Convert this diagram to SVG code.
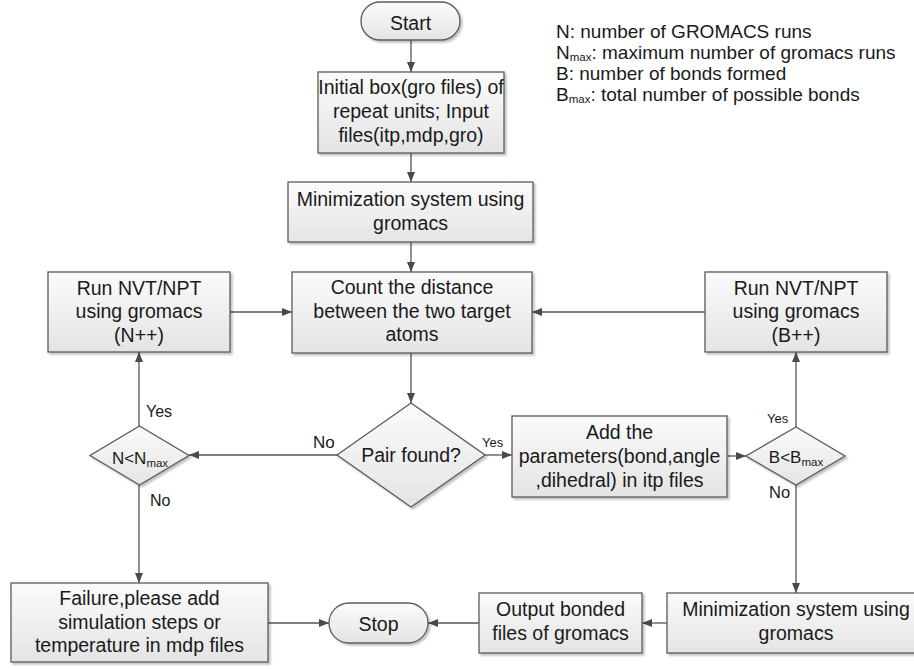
<svg xmlns="http://www.w3.org/2000/svg" width="914" height="669" viewBox="0 0 914 669">
<style>
.s{fill:url(#g);stroke:#5b5b5b;stroke-width:1.3;filter:url(#sh)}
.t{font-family:"Liberation Sans",Arial,sans-serif;font-size:19.5px;fill:#1a1a1a;text-anchor:middle}
.lg{font-family:"Liberation Sans",Arial,sans-serif;font-size:19px;fill:#1a1a1a}
.d{font-family:"Liberation Sans",Arial,sans-serif;font-size:17px;fill:#1a1a1a;text-anchor:middle}
.lb{font-family:"Liberation Sans",Arial,sans-serif;fill:#1a1a1a}
.c{fill:none;stroke:#555;stroke-width:1.3;marker-end:url(#a)}
</style>
<defs>
<linearGradient id="g" x1="0" y1="0" x2="0" y2="1">
<stop offset="0" stop-color="#fbfbfb"/><stop offset="1" stop-color="#e4e4e4"/>
</linearGradient>
<filter id="sh" x="-10%" y="-10%" width="130%" height="130%">
<feGaussianBlur in="SourceAlpha" stdDeviation="1"/>
<feOffset dx="2" dy="2" result="o"/>
<feComponentTransfer><feFuncA type="linear" slope="0.25"/></feComponentTransfer>
<feMerge><feMergeNode/><feMergeNode in="SourceGraphic"/></feMerge>
</filter>
<marker id="a" viewBox="0 0 10 8" refX="10" refY="4" markerWidth="10" markerHeight="8" markerUnits="userSpaceOnUse" orient="auto">
<path d="M0,0 L10,4 L0,8 Z" fill="#4a4a4a"/>
</marker>
</defs>

<g id="connectors">
<path class="c" d="M411,40 V72"/>
<path class="c" d="M411,153 V182"/>
<path class="c" d="M411,242 V272"/>
<path class="c" d="M411,353 V403"/>
<path class="c" d="M485,455 H512"/>
<path class="c" d="M727,456 H746"/>
<path class="c" d="M796,427 V352"/>
<path class="c" d="M705,312 H532"/>
<path class="c" d="M796,485 V593"/>
<path class="c" d="M667,623 H642"/>
<path class="c" d="M479,623 H428"/>
<path class="c" d="M337,455 H189"/>
<path class="c" d="M139,426 V352"/>
<path class="c" d="M230,312 H292"/>
<path class="c" d="M139,485 V583"/>
<path class="c" d="M268,623 H329"/>
<text class="lb" x="313" y="448" font-size="17">No</text>
<text class="lb" x="482" y="447" font-size="13">Yes</text>
<text class="lb" x="146" y="417" font-size="16">Yes</text>
<text class="lb" x="150" y="506" font-size="16">No</text>
<text class="lb" x="767" y="423" font-size="13">Yes</text>
<text class="lb" x="769" y="498" font-size="16.5">No</text>
</g>

<g id="start">
<rect class="s" x="361" y="2" width="99" height="38" rx="19"/>
<text class="t" x="410.5" y="30" font-size="24">Start</text>
</g>

<g id="initial">
<rect class="s" x="318" y="72" width="186" height="81"/>
<text class="t" x="411" y="94">Initial box(gro files) of</text>
<text class="t" x="411" y="118">repeat units; Input</text>
<text class="t" x="411" y="142">files(itp,mdp,gro)</text>
</g>

<g id="minimize1">
<rect class="s" x="288" y="182" width="245" height="60"/>
<text class="t" x="410.5" y="206">Minimization system using</text>
<text class="t" x="410.5" y="230">gromacs</text>
</g>

<g id="count">
<rect class="s" x="292" y="272" width="240" height="81"/>
<text class="t" x="412" y="294">Count the distance</text>
<text class="t" x="412" y="318">between the two target</text>
<text class="t" x="412" y="341">atoms</text>
</g>

<g id="nvtN">
<rect class="s" x="48" y="272" width="182" height="80"/>
<text class="t" x="139" y="295">Run NVT/NPT</text>
<text class="t" x="139" y="318">using gromacs</text>
<text class="t" x="139" y="342">(N++)</text>
</g>

<g id="nvtB">
<rect class="s" x="705" y="272" width="182" height="80"/>
<text class="t" x="796" y="295">Run NVT/NPT</text>
<text class="t" x="796" y="318">using gromacs</text>
<text class="t" x="796" y="342">(B++)</text>
</g>

<g id="pair">
<path class="s" d="M411,403 L485,455 L411,507 L337,455 Z"/>
<text class="t" x="411" y="462">Pair found?</text>
</g>

<g id="ncheck">
<path class="s" d="M139.5,426 L189,455.5 L139.5,485 L90,455.5 Z"/>
<text class="d" x="140" y="464">N&lt;N<tspan font-size="11.5" dy="3">max</tspan></text>
</g>

<g id="bcheck">
<path class="s" d="M796,427 L845,456 L796,485 L746,456 Z"/>
<text class="d" x="796" y="463">B&lt;B<tspan font-size="11.5" dy="3">max</tspan></text>
</g>

<g id="addparams">
<rect class="s" x="512" y="416" width="215" height="81"/>
<text class="t" x="619.5" y="439">Add the</text>
<text class="t" x="619.5" y="463">parameters(bond,angle</text>
<text class="t" x="619.5" y="487">,dihedral) in itp files</text>
</g>

<g id="minimize2">
<rect class="s" x="667" y="593" width="258" height="60"/>
<text class="t" x="796" y="616">Minimization system using</text>
<text class="t" x="796" y="640">gromacs</text>
</g>

<g id="output">
<rect class="s" x="479" y="593" width="163" height="60"/>
<text class="t" x="560.5" y="616">Output bonded</text>
<text class="t" x="560.5" y="640">files of gromacs</text>
</g>

<g id="stop">
<rect class="s" x="329" y="603" width="99" height="40" rx="20"/>
<text class="t" x="378.5" y="631" font-size="24">Stop</text>
</g>

<g id="failure">
<rect class="s" x="11" y="583" width="257" height="79"/>
<text class="t" x="139.5" y="605">Failure,please add</text>
<text class="t" x="139.5" y="629">simulation steps or</text>
<text class="t" x="139.5" y="652">temperature in mdp files</text>
</g>

<g id="legend">
<text class="lg" x="556" y="38">N: number of GROMACS runs</text>
<text class="lg" x="556" y="59">N<tspan font-size="11.5" dy="2">max</tspan><tspan dy="-2">: maximum number of gromacs runs</tspan></text>
<text class="lg" x="556" y="80">B: number of bonds formed</text>
<text class="lg" x="556" y="101">B<tspan font-size="11.5" dy="2">max</tspan><tspan dy="-2">: total number of possible bonds</tspan></text>
</g>
</svg>
